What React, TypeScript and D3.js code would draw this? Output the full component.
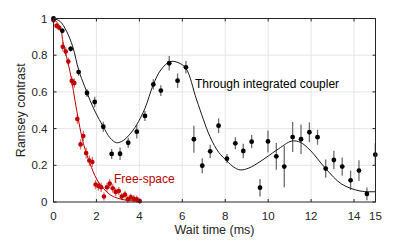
import React from "react";
import * as d3 from "d3";

const W = 415;
const H = 240;

// Black: through integrated coupler
const blackT = [0, 0.41, 0.8, 1.17, 1.56, 1.92, 2.32, 2.71, 3.1, 3.48, 3.88, 4.26, 4.65, 5.0, 5.39, 5.78, 6.17, 6.54, 6.93, 7.3, 7.69, 8.08, 8.47, 8.84, 9.23, 9.62, 9.99, 10.38, 10.75, 11.14, 11.53, 11.92, 12.3, 12.68, 13.06, 13.45, 13.84, 14.23, 14.6, 14.99];
const blackV = [1.0, 0.933, 0.835, 0.708, 0.594, 0.545, 0.41, 0.262, 0.263, 0.323, 0.383, 0.469, 0.641, 0.607, 0.756, 0.661, 0.734, 0.342, 0.198, 0.276, 0.416, 0.236, 0.32, 0.278, 0.329, 0.078, 0.33, 0.249, 0.193, 0.354, 0.342, 0.38, 0.353, 0.182, 0.229, 0.193, 0.118, 0.171, 0.044, 0.258];
const blackE = [0.01, 0.015, 0.015, 0.02, 0.022, 0.029, 0.027, 0.027, 0.034, 0.027, 0.037, 0.027, 0.028, 0.029, 0.04, 0.039, 0.034, 0.073, 0.041, 0.036, 0.04, 0.025, 0.033, 0.04, 0.036, 0.048, 0.06, 0.073, 0.113, 0.082, 0.08, 0.054, 0.041, 0.05, 0.05, 0.05, 0.053, 0.057, 0.035, 0.062];

// Black fit curve
const blackFitT = [0, 0.3, 0.61, 0.9, 1.17, 1.45, 1.7, 1.95, 2.32, 2.63, 2.94, 3.25, 3.56, 3.87, 4.26, 4.65, 5.0, 5.43, 5.8, 6.17, 6.67, 7.29, 7.7, 8.07, 8.4, 8.69, 9.1, 9.62, 10.4, 11.1, 11.5, 11.95, 12.68, 13.42, 14.28, 15];
const blackFitV = [1, 0.985, 0.93, 0.845, 0.72, 0.63, 0.555, 0.49, 0.41, 0.35, 0.323, 0.335, 0.37, 0.42, 0.51, 0.64, 0.72, 0.765, 0.76, 0.728, 0.556, 0.356, 0.27, 0.225, 0.19, 0.175, 0.185, 0.22, 0.283, 0.332, 0.325, 0.283, 0.182, 0.098, 0.06, 0.056];

// Red: free-space
const redT = [0, 0.14, 0.27, 0.43, 0.57, 0.69, 0.85, 0.97, 1.11, 1.26, 1.39, 1.52, 1.67, 1.81, 1.96, 2.09, 2.22, 2.35, 2.49, 2.62, 2.76, 2.9, 3.04, 3.18, 3.33, 3.46, 3.6, 3.74, 3.88, 4.02];
const redV = [0.99, 0.96, 0.95, 0.846, 0.82, 0.765, 0.66, 0.648, 0.452, 0.314, 0.36, 0.267, 0.226, 0.218, 0.095, 0.087, 0.08, 0.03, 0.08, 0.1, 0.075, 0.055, 0.06, 0.03, 0.04, 0.015, 0.025, 0.018, 0.015, 0.005];
const redE = [0.01, 0.015, 0.015, 0.025, 0.025, 0.022, 0.025, 0.025, 0.025, 0.028, 0.028, 0.03, 0.028, 0.028, 0.025, 0.025, 0.025, 0.022, 0.025, 0.025, 0.025, 0.022, 0.022, 0.02, 0.02, 0.02, 0.02, 0.02, 0.02, 0.015];

const redFitT = [0, 0.3, 0.46, 0.77, 1.08, 1.39, 1.7, 2.01, 2.32, 2.63, 3.0, 3.5, 4.0];
const redFitV = [1, 0.955, 0.86, 0.71, 0.5, 0.32, 0.21, 0.125, 0.075, 0.04, 0.02, 0.008, 0.003];

const xTicks = [0, 2, 4, 6, 8, 10, 12, 14, 15];
const xGrid = [2, 4, 6, 8, 10, 12, 14];
const yTicks = [0, 0.2, 0.4, 0.6, 0.8, 1];
const yTickLabels = ["0", "0.2", "0.4", "0.6", "0.8", "1"];

const RED = "#c00000";
const AX = "#262626";
const FONT = "'Liberation Sans', Arial, Helvetica, sans-serif";

export default function App() {
  const x = d3.scaleLinear().domain([0, 15]).range([53.5, 375.5]);
  const y = d3.scaleLinear().domain([0, 1]).range([202, 18.5]);
  const [x0, x1] = x.range();
  const [y0, y1] = y.range();

  const line = d3
    .line<[number, number]>()
    .x((d) => x(d[0]))
    .y((d) => y(d[1]))
    .curve(d3.curveCatmullRom.alpha(0.5));

  const blackFit = line(blackFitT.map((t, i) => [t, blackFitV[i]] as [number, number])) || "";
  const redFit = line(redFitT.map((t, i) => [t, redFitV[i]] as [number, number])) || "";

  return (
    <svg
      width={W}
      height={H}
      style={{ position: "absolute", left: 0, top: 0, background: "#fff" }}
      fontFamily={FONT}
    >
      <rect x={0} y={0} width={W} height={H} fill="#fff" />
      {/* grid */}
      {xGrid.map((t) => (
        <line key={"gx" + t} x1={x(t)} x2={x(t)} y1={y0} y2={y1} stroke="#e6e6e6" strokeWidth={1} />
      ))}
      {yTicks.slice(1, -1).map((v) => (
        <line key={"gy" + v} x1={x0} x2={x1} y1={y(v)} y2={y(v)} stroke="#e6e6e6" strokeWidth={1} />
      ))}

      {/* red error bars */}
      {redT.map((t, i) => (
        <line key={"re" + i} x1={x(t)} x2={x(t)} y1={y(redV[i] - redE[i])} y2={y(redV[i] + redE[i])} stroke="#e06a6a" strokeWidth={1.3} />
      ))}
      {/* black error bars */}
      {blackT.map((t, i) => (
        <line key={"be" + i} x1={x(t)} x2={x(t)} y1={y(blackV[i] - blackE[i])} y2={y(blackV[i] + blackE[i])} stroke="#6e6e6e" strokeWidth={1.3} />
      ))}

      {/* fits */}
      <path d={redFit} fill="none" stroke={RED} strokeWidth={1} />
      <path d={blackFit} fill="none" stroke="#1a1a1a" strokeWidth={1} />

      {/* markers */}
      {redT.map((t, i) => (
        <circle key={"rp" + i} cx={x(t)} cy={y(redV[i])} r={2.3} fill={RED} />
      ))}
      {blackT.map((t, i) => (
        <circle key={"bp" + i} cx={x(t)} cy={y(blackV[i])} r={2.4} fill="#000" />
      ))}

      {/* box */}
      <rect x={x0} y={y1} width={x1 - x0} height={y0 - y1} fill="none" stroke={AX} strokeWidth={1} />

      {/* ticks */}
      {xTicks.map((t) => (
        <g key={"xt" + t}>
          <line x1={x(t)} x2={x(t)} y1={y0} y2={y0 - 3} stroke={AX} strokeWidth={1} />
          <line x1={x(t)} x2={x(t)} y1={y1} y2={y1 + 3} stroke={AX} strokeWidth={1} />
          <text x={x(t)} y={220} textAnchor="middle" fontSize={11.5} fill={AX}>
            {t}
          </text>
        </g>
      ))}
      {yTicks.map((v, i) => (
        <g key={"yt" + v}>
          <line x1={x0} x2={x0 + 3} y1={y(v)} y2={y(v)} stroke={AX} strokeWidth={1} />
          <line x1={x1} x2={x1 - 3} y1={y(v)} y2={y(v)} stroke={AX} strokeWidth={1} />
          <text x={47.5} y={y(v) + 4} textAnchor="end" fontSize={11.5} fill={AX}>
            {yTickLabels[i]}
          </text>
        </g>
      ))}

      {/* axis labels */}
      <text x={(x0 + x1) / 2} y={234} textAnchor="middle" fontSize={12.5} fill={AX}>
        Wait time (ms)
      </text>
      <text transform={`translate(25,${(y0 + y1) / 2}) rotate(-90)`} textAnchor="middle" fontSize={12.5} fill={AX}>
        Ramsey contrast
      </text>

      {/* annotations */}
      <text x={195} y={88} fontSize={12} fill="#000">
        Through integrated coupler
      </text>
      <text x={114} y={183} fontSize={12} fill={RED}>
        Free-space
      </text>
    </svg>
  );
}
